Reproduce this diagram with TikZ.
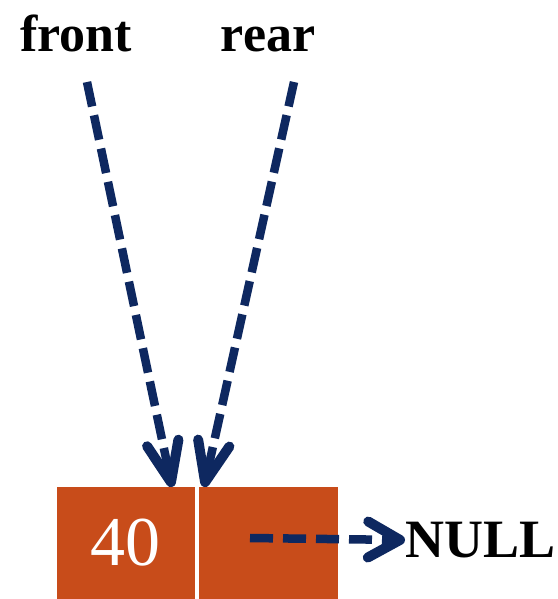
\documentclass[tikz,border=0pt]{standalone}
\usepackage{fontspec}
\setmainfont{Liberation Serif}
\usetikzlibrary{arrows.meta}
\definecolor{boxorange}{RGB}{200,76,26}
\definecolor{navy}{RGB}{14,40,96}
\begin{document}
\begin{tikzpicture}[x=1pt,y=-1pt,
  cell/.style={fill=boxorange,draw=none,minimum height=112pt,inner sep=0pt,anchor=north},
  lbl/.style={font=\fontsize{52}{52}\selectfont\bfseries,inner sep=0pt,text=black},
  ptr/.style={draw=navy,line width=8.5pt,dash pattern=on 25pt off 9pt,
    -{Straight Barb[length=40pt,width=32pt,line width=10pt,round]}}]
\useasboundingbox[fill=white] (0,0) rectangle (557,599);
\node[lbl,anchor=base] (front) at (76,52) {front};
\node[lbl,anchor=base] (rear) at (268,52) {rear};
\coordinate (fs) at (87,82);
\coordinate (rs) at (294,82);
\node[cell,minimum width=138pt] (data) at (126,487) {};
\node[cell,minimum width=139pt] (next) at (268.5,487) {};
\node[text=white,font=\fontsize{70}{70}\selectfont,inner sep=0pt] (val) at (125,543) {40};
\node[lbl,font=\fontsize{54}{54}\selectfont\bfseries,anchor=west] (null) at (405,540) {NULL};
\coordinate (ns) at (250,538);
\draw[ptr] (fs) -- (172,487);
\draw[ptr] (rs) -- (204,487);
\draw[ptr,dash pattern=on 23pt off 10pt,-{Straight Barb[length=32pt,width=36pt,line width=10pt,round]}] (ns) -- (null.west);
\end{tikzpicture}
\end{document}
